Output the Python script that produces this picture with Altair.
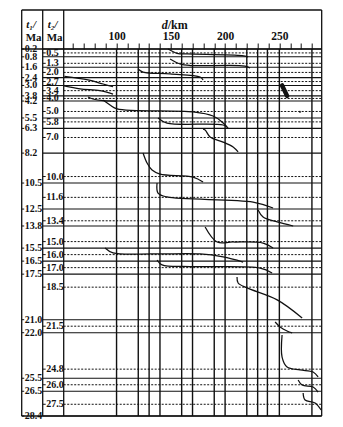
import altair as alt
import pandas as pd

# ---------------- data ----------------
t1_vals = [0.2, 0.8, 1.6, 2.4, 3.0, 3.8, 4.2, 5.5, 6.3, 8.2, 10.5, 12.5, 13.8,
           15.5, 16.5, 17.5, 21.0, 22.0, 25.5, 26.5, 28.4]
t2_vals = [0.5, 1.3, 2.0, 2.7, 3.4, 4.0, 5.0, 5.8, 7.0, 10.0, 11.6, 13.4, 15.0,
           16.0, 17.0, 18.5, 21.5, 24.8, 26.0, 27.5]
vline_d = [100, 120, 130, 140, 160, 170, 190, 200, 220, 230, 239, 250, 280]
tick_d = [60, 70, 80, 90, 100, 110, 120, 130, 140, 150, 160, 170, 180, 190,
          200, 210, 220, 230, 240, 250, 260, 270, 280]

# one curve per t1 interval: distance d (km) and time t (Ma)
curve_d = [
    [147.5, 155.8, 165.0, 215.7, 221.2],
    [149.3, 158.5, 167.7, 218.4, 223.0],
    [119.8, 124.4, 149.3, 177.0, 179.7],
    [52.0, 73.7, 87.6, 96.8],
    [51.6, 66.4, 84.8, 96.8],
    [73.7, 78.3, 87.6, 100.5],
    [87.6, 94.0, 100.5, 170.5, 188.9, 197.2, 201.8],
    [138.2, 146.5, 198.2, 202.8],
    [179.7, 181.6, 186.2, 198.2, 207.4, 212.0],
    [124.4, 128.1, 132.7, 140.1, 170.5, 179.7],
    [137.3, 138.2, 146.5, 225.8, 244.2],
    [230.4, 235.0, 248.0, 262.7],
    [181.6, 192.6, 207.4, 235.0, 244.2],
    [89.4, 96.8, 134.0, 177.0, 198.2, 216.6],
    [137.3, 141.9, 167.7, 232.3, 243.3],
    [211.0, 212.0, 220.3, 248.0, 271.0],
    [246.1, 250.7, 257.1, 261.8],
    [252.5, 252.5, 257.1, 269.1, 281.1, 285.7],
    [267.3, 271.0, 281.1, 285.7],
    [271.9, 273.7, 282.9, 288.5],
]
curve_t = [
    [0.20, 0.53, 0.58, 0.71, 0.81],
    [0.97, 1.35, 1.47, 1.51, 1.66],
    [1.74, 1.97, 2.12, 2.35, 2.58],
    [2.30, 2.58, 2.89, 3.10],
    [3.04, 3.27, 3.40, 3.66],
    [3.89, 4.04, 4.17, 4.20],
    [4.12, 4.50, 4.80, 5.04, 5.35, 5.81, 6.19],
    [5.50, 5.89, 6.04, 6.27],
    [6.35, 6.42, 6.96, 7.35, 7.73, 8.11],
    [8.19, 8.96, 9.50, 9.81, 10.04, 10.42],
    [10.50, 11.27, 11.57, 11.96, 12.42],
    [12.57, 13.11, 13.49, 13.80],
    [13.88, 15.03, 15.03, 15.11, 15.49],
    [15.49, 15.87, 15.95, 15.95, 16.18, 16.57],
    [16.41, 16.79, 16.92, 17.03, 17.41],
    [17.72, 18.18, 18.56, 19.48, 20.87],
    [21.18, 21.56, 21.87, 22.02],
    [22.18, 23.87, 24.63, 24.86, 25.02, 25.40],
    [25.63, 26.02, 26.17, 26.56],
    [26.63, 27.17, 27.40, 27.94],
]
blob_d = [252.5, 254.8, 257.1]
blob_t = [3.00, 3.40, 3.80]
dot_d = [269.0]
dot_t = [5.04]

# ---------------- build tables ----------------
rows = []
for i, (ds, ts) in enumerate(zip(curve_d, curve_t)):
    for j, (d, t) in enumerate(zip(ds, ts)):
        rows.append({"cid": i, "k": j, "d": d, "t": t})
cur_df = pd.DataFrame(rows)
t1_df = pd.DataFrame({"t": t1_vals})
t2_df = pd.DataFrame({"t": t2_vals})
vl_df = pd.DataFrame({"d": vline_d})
blob_df = pd.DataFrame({"d": blob_d, "t": blob_t, "k": list(range(len(blob_d)))})
dot_df = pd.DataFrame({"d": dot_d, "t": dot_t})
one = pd.DataFrame({"k": [0]})

W, H = 258, 367
FONT = "Liberation Serif"
INK = "#111111"

xs = alt.Scale(domain=[51.3, 289], nice=False, zero=False)
ys = alt.Scale(domain=[0.2, 28.4], nice=False, zero=False, reverse=True)
xaxis = alt.Axis(orient="top", values=tick_d, grid=False, domain=False,
                 title=None, tickSize=6, tickColor=INK, tickWidth=1,
                 labelExpr="datum.value % 50 === 0 ? datum.label : ''",
                 labelFont=FONT, labelFontSize=11.5, labelFontWeight="bold",
                 labelColor=INK, labelPadding=2, labelOverlap=False,
                 labelFlush=False, format="d")

X = lambda: alt.X("d:Q", scale=xs, axis=xaxis)
Y = lambda: alt.Y("t:Q", scale=ys, axis=None)

layers = []

# vertical lines
layers.append(alt.Chart(vl_df).mark_rule(color=INK, strokeWidth=1.4).encode(x=X()))

# t1 solid lines + ticks + labels
layers.append(alt.Chart(t1_df).mark_rule(color=INK, strokeWidth=1.1).encode(
    y=Y(), x=alt.value(-21), x2=alt.value(W)))
layers.append(alt.Chart(t1_df).mark_rule(color=INK, strokeWidth=1).encode(
    y=Y(), x=alt.value(-42), x2=alt.value(-39.5)))
layers.append(alt.Chart(t1_df).mark_text(align="left", baseline="middle", font=FONT,
                                         fontSize=10, fontWeight="bold", color=INK).encode(
    y=Y(), x=alt.value(-39), text=alt.Text("t:Q", format=".1f")))

# t2 dotted lines + ticks + labels
layers.append(alt.Chart(t2_df).mark_rule(color=INK, strokeWidth=1, strokeDash=[2, 1.5]).encode(
    y=Y(), x=alt.value(0), x2=alt.value(W)))
layers.append(alt.Chart(t2_df).mark_rule(color=INK, strokeWidth=1).encode(
    y=Y(), x=alt.value(-21), x2=alt.value(-18)))
layers.append(alt.Chart(t2_df).mark_text(align="left", baseline="middle", font=FONT,
                                         fontSize=10, fontWeight="bold", color=INK).encode(
    y=Y(), x=alt.value(-17.5), text=alt.Text("t:Q", format=".1f")))

# frame
for xv in [-42, -21, 0, W]:
    layers.append(alt.Chart(one).mark_rule(color=INK, strokeWidth=1.3).encode(
        x=alt.value(xv), y=alt.value(-39), y2=alt.value(H)))
for yv in [-39, 0, H]:
    layers.append(alt.Chart(one).mark_rule(color=INK, strokeWidth=1.3).encode(
        y=alt.value(yv), x=alt.value(-42), x2=alt.value(W)))

# curves
layers.append(alt.Chart(cur_df).mark_line(color=INK, strokeWidth=1.25,
                                          interpolate="catmull-rom").encode(
    x=X(), y=Y(), detail="cid:N", order="k:Q"))
layers.append(alt.Chart(blob_df).mark_line(color=INK, strokeWidth=4.5, strokeCap="round").encode(
    x=X(), y=Y(), order="k:Q"))
layers.append(alt.Chart(dot_df).mark_point(color=INK, filled=True, size=5).encode(x=X(), y=Y()))

# header texts
def htxt(txt, xv, yv, style="normal", size=11, align="left"):
    return alt.Chart(one).mark_text(text=txt, font=FONT, fontSize=size, fontWeight="bold",
                                    fontStyle=style, align=align, baseline="middle",
                                    color=INK).encode(x=alt.value(xv), y=alt.value(yv))

layers.append(htxt("t\u2081/", -37.5, -24, style="italic"))
layers.append(htxt("Ma", -38, -11))
layers.append(htxt("t\u2082/", -16, -24, style="italic"))
layers.append(htxt("Ma", -17, -11))
layers.append(htxt("d", 104, -24, style="italic", size=12, align="right"))
layers.append(htxt("/km", 104, -24, size=12))

chart = alt.layer(*layers).properties(
    width=W, height=H,
    autosize=alt.AutoSizeParams(type="none"),
    padding={"left": 55.7, "top": 41, "right": 12, "bottom": 8},
).configure_view(stroke=None)

chart.save("out.html", embed_options={"renderer": "svg", "actions": False})
